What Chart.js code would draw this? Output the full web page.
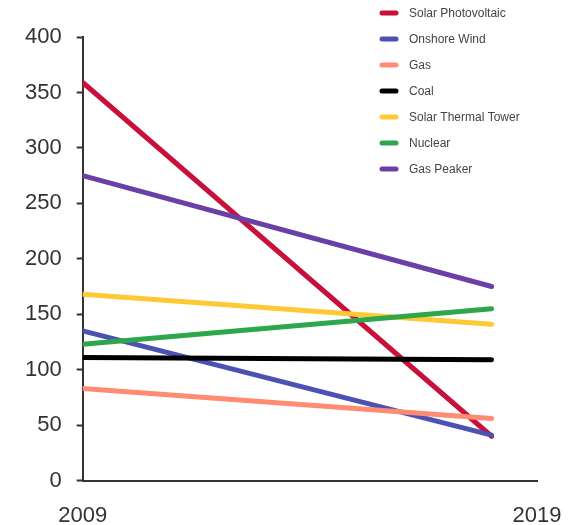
<!DOCTYPE html>
<html>
<head>
<meta charset="utf-8">
<script src="https://cdn.jsdelivr.net/npm/chart.js@4.4.1/dist/chart.umd.min.js"></script>
<style>
  html, body { margin: 0; padding: 0; background: #ffffff; }
  #wrap { width: 574px; height: 525px; }
</style>
</head>
<body>
<div id="wrap"><canvas id="lcoe" width="574" height="525"></canvas></div>
<script>
// Levelized cost of energy by technology, first and latest year
const years = [2009, 2018];
const axisYears = [2009, 2019];
const technologies = [
  'Solar Photovoltaic', 'Onshore Wind', 'Gas', 'Coal',
  'Solar Thermal Tower', 'Nuclear', 'Gas Peaker'
];
const solarPV      = [359, 40];
const onshoreWind  = [135, 41];
const gas          = [83, 56];
const coal         = [111, 109];
const solarThermal = [168, 141];
const nuclear      = [123, 155];
const gasPeaker    = [275, 175];
const yTicks = [0, 50, 100, 150, 200, 250, 300, 350, 400];

const seriesValues = [solarPV, onshoreWind, gas, coal, solarThermal, nuclear, gasPeaker];
const colors = ['#c8103a', '#4b52b4', '#ff8b73', '#000000', '#ffc935', '#2ea64c', '#6b3fa8'];

const datasets = technologies.map((name, i) => ({
  label: name,
  data: seriesValues[i].map((v, j) => ({ x: years[j], y: v })),
  borderColor: colors[i],
  backgroundColor: colors[i],
  borderWidth: 5,
  borderCapStyle: 'round',
  pointRadius: 0,
  tension: 0,
  fill: false,
  // later series are painted over earlier ones
  order: technologies.length - i
}));

// Vertical legend in the top-right corner
const sideLegend = {
  id: 'sideLegend',
  afterDraw(chart) {
    const ctx = chart.ctx;
    ctx.save();
    ctx.font = '12px "Liberation Sans", Arial, sans-serif';
    ctx.textBaseline = 'middle';
    ctx.textAlign = 'left';
    chart.data.datasets.forEach((ds, i) => {
      const y = 13 + i * 26;
      ctx.strokeStyle = ds.borderColor;
      ctx.lineWidth = 5;
      ctx.lineCap = 'round';
      ctx.beginPath();
      ctx.moveTo(382, y);
      ctx.lineTo(396, y);
      ctx.stroke();
      ctx.fillStyle = '#444444';
      ctx.fillText(ds.label, 409, y + 0.5);
    });
    ctx.restore();
  }
};

new Chart(document.getElementById('lcoe'), {
  type: 'line',
  data: { datasets },
  plugins: [sideLegend],
  options: {
    responsive: false,
    animation: false,
    layout: { padding: { left: 10, top: 37, right: 37, bottom: -26 } },
    plugins: { legend: { display: false }, tooltip: { enabled: false } },
    scales: {
      x: {
        type: 'linear',
        min: axisYears[0],
        max: axisYears[1],
        afterBuildTicks(axis) { axis.ticks = axisYears.map(v => ({ value: v })); },
        // let the last year label hang past the axis end
        afterFit(axis) { axis.paddingRight = 0; },
        ticks: {
          color: '#333333',
          font: { family: '"Liberation Sans", Arial, sans-serif', size: 22 },
          padding: 22,
          maxRotation: 0,
          callback: v => String(v)
        },
        grid: { display: false, drawTicks: false },
        border: { display: true, color: '#333333', width: 2 }
      },
      y: {
        type: 'linear',
        min: yTicks[0],
        max: yTicks[yTicks.length - 1],
        afterBuildTicks(axis) { axis.ticks = yTicks.map(v => ({ value: v })); },
        ticks: {
          color: '#333333',
          font: { family: '"Liberation Sans", Arial, sans-serif', size: 22 },
          padding: 15
        },
        grid: {
          drawOnChartArea: false,
          drawTicks: true,
          tickLength: 6,
          tickWidth: 2,
          color: '#333333'
        },
        border: { display: true, color: '#333333', width: 2 }
      }
    }
  }
});
</script>
</body>
</html>
